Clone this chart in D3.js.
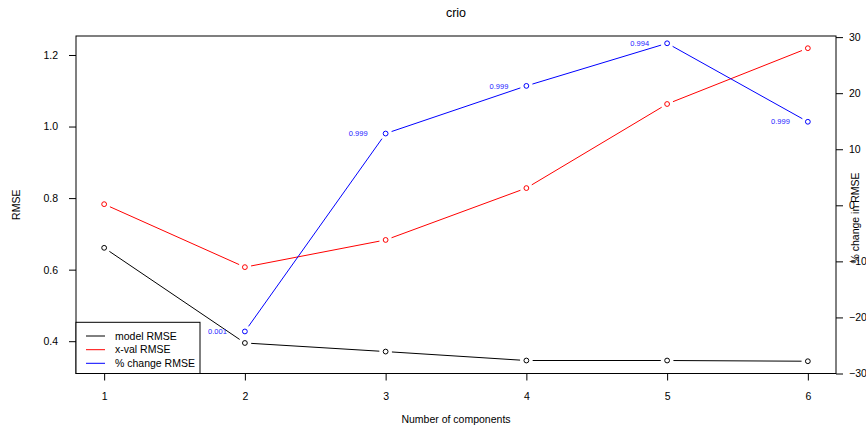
<!DOCTYPE html>
<html>
<head>
<meta charset="utf-8">
<script src="https://cdn.jsdelivr.net/npm/d3@7"></script>
<style>
  body { margin: 0; background: #fff; }
  text { font-family: "Liberation Sans", Arial, sans-serif; fill: #000; }
</style>
</head>
<body>
<div id="viz"></div>
<script>
// chart data
var components = [1, 2, 3, 4, 5, 6];
var modelRMSE = [0.661, 0.395, 0.371, 0.346, 0.346, 0.344];
var xvalRMSE = [0.783, 0.607, 0.683, 0.828, 1.063, 1.219];
var pctChange = [null, -22.5, 12.8, 21.3, 28.9, 14.9];
var pctLabels = ["", "0.001", "0.999", "0.999", "0.994", "0.999"];
var leftTicks = [0.4, 0.6, 0.8, 1.0, 1.2];
var rightTicks = [-30, -20, -10, 0, 10, 20, 30];
var legendNames = ["model RMSE", "x-val RMSE", "% change RMSE"];
var legendColors = ["black", "red", "blue"];

var W = 866, H = 430;
var plot = { left: 76, right: 836, top: 36, bottom: 373.5 };

var svg = d3.select("#viz")
  .append("svg")
  .attr("width", W)
  .attr("height", H);

// scales
var x = d3.scaleLinear().domain([0.8, 6.2]).range([plot.left, plot.right]);
var yL = d3.scaleLinear().domain([0.3097, 1.2531]).range([plot.bottom, plot.top]);
var yR = d3.scaleLinear().domain([-30, 30.2]).range([plot.bottom, plot.top]);

// title
svg.append("text")
  .attr("x", (plot.left + plot.right) / 2)
  .attr("y", 17)
  .attr("text-anchor", "middle")
  .style("font-size", "12.5px")
  .text("crio");

// axes
svg.append("g")
  .attr("transform", "translate(0," + plot.bottom + ")")
  .call(d3.axisBottom(x).tickValues(components).tickFormat(d3.format("d")).tickSize(7).tickPadding(12))
  .call(g => g.select(".domain").remove());

svg.append("g")
  .attr("transform", "translate(" + plot.left + ",0)")
  .call(d3.axisLeft(yL).tickValues(leftTicks).tickFormat(d3.format(".1f")).tickSize(7).tickPadding(11))
  .call(g => g.select(".domain").remove());

svg.append("g")
  .attr("transform", "translate(" + plot.right + ",0)")
  .call(d3.axisRight(yR).tickValues(rightTicks).tickFormat(d3.format("d")).tickSize(7).tickPadding(6))
  .call(g => g.select(".domain").remove());

svg.selectAll(".tick text").style("font-size", "10.5px").style("font-family", "'Liberation Sans', Arial, sans-serif");
svg.selectAll(".tick line").attr("stroke", "#000");

// plot box
svg.append("rect")
  .attr("x", plot.left)
  .attr("y", plot.top)
  .attr("width", plot.right - plot.left)
  .attr("height", plot.bottom - plot.top)
  .attr("fill", "none")
  .attr("stroke", "#000")
  .attr("stroke-width", 1);

// axis titles
svg.append("text")
  .attr("x", (plot.left + plot.right) / 2)
  .attr("y", 423)
  .attr("text-anchor", "middle")
  .style("font-size", "10.5px")
  .text("Number of components");

svg.append("text")
  .attr("transform", "translate(20," + ((plot.top + plot.bottom) / 2) + ") rotate(-90)")
  .attr("text-anchor", "middle")
  .style("font-size", "10.5px")
  .text("RMSE");

svg.append("text")
  .attr("transform", "translate(859,218) rotate(-90)")
  .attr("text-anchor", "middle")
  .style("font-size", "10.5px")
  .text("% change in RMSE");

// draw a series as R type "b": points with gapped segments
function drawSeries(values, yScale, color) {
  var pts = components.map((c, i) => ({ x: x(c), y: values[i] == null ? null : yScale(values[i]) }))
    .filter(p => p.y != null);
  var gap = 6.3;
  var segs = [];
  for (var i = 0; i < pts.length - 1; i++) {
    var a = pts[i], b = pts[i + 1];
    var dx = b.x - a.x, dy = b.y - a.y, len = Math.sqrt(dx * dx + dy * dy);
    if (len > 2 * gap) {
      segs.push([a.x + dx / len * gap, a.y + dy / len * gap, b.x - dx / len * gap, b.y - dy / len * gap]);
    }
  }
  svg.append("g").selectAll("line")
    .data(segs)
    .join("line")
    .attr("x1", d => d[0]).attr("y1", d => d[1])
    .attr("x2", d => d[2]).attr("y2", d => d[3])
    .attr("stroke", color)
    .attr("stroke-width", 1);
  svg.append("g").selectAll("circle")
    .data(pts)
    .join("circle")
    .attr("cx", d => d.x)
    .attr("cy", d => d.y)
    .attr("r", 2.4)
    .attr("fill", "none")
    .attr("stroke", color)
    .attr("stroke-width", 1);
}

drawSeries(modelRMSE, yL, "black");
drawSeries(xvalRMSE, yL, "red");
drawSeries(pctChange, yR, "blue");

// labels next to % change points
svg.append("g").selectAll("text")
  .data(components.filter((c, i) => pctChange[i] != null))
  .join("text")
  .attr("x", d => x(d) - 18)
  .attr("y", d => yR(pctChange[d - 1]))
  .attr("dy", "0.35em")
  .attr("text-anchor", "end")
  .style("font-size", "7.5px")
  .style("fill", "#2222ff")
  .text(d => pctLabels[d - 1]);

// legend
var leg = svg.append("g");
leg.append("rect")
  .attr("x", plot.left)
  .attr("y", 322.3)
  .attr("width", 200 - plot.left)
  .attr("height", plot.bottom - 322.3)
  .attr("fill", "#fff")
  .attr("stroke", "#000")
  .attr("stroke-width", 1);

var rowY = [336, 349.7, 363.3];
legendNames.forEach((name, i) => {
  leg.append("line")
    .attr("x1", 86).attr("x2", 105)
    .attr("y1", rowY[i]).attr("y2", rowY[i])
    .attr("stroke", legendColors[i])
    .attr("stroke-width", 1);
  leg.append("text")
    .attr("x", 115)
    .attr("y", rowY[i])
    .attr("dy", "0.35em")
    .style("font-size", "10.5px")
    .text(name);
});
</script>
</body>
</html>
